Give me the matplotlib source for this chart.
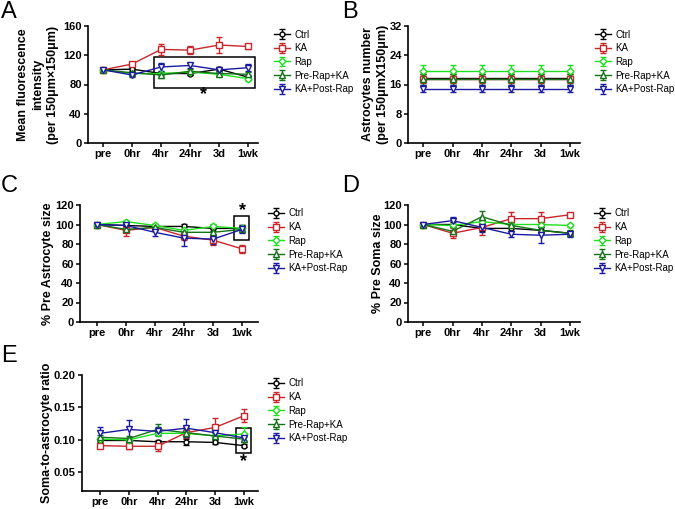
import matplotlib
matplotlib.use('Agg')
import matplotlib.pyplot as plt
from matplotlib.patches import Rectangle

plt.rcParams['font.family'] = ['Liberation Sans', 'DejaVu Sans']

timepoints = ['pre', '0hr', '4hr', '24hr', '3d', '1wk']
groups = ['Ctrl', 'KA', 'Rap', 'Pre-Rap+KA', 'KA+Post-Rap']
colors = ['#000000', '#c8262b', '#1fe01f', '#16721a', '#1a1aa0']
markers = ['o', 's', 'D', '^', 'v']
msizes = [3.5, 4, 3.5, 4, 4]

# panel A: mean fluorescence intensity
a_mean = [[100, 101, 95, 95, 101, 90],
          [100, 108, 128, 127, 134, 132],
          [100, 95, 95, 97, 94, 88],
          [100, 96, 93, 98, 95, 94],
          [100, 93, 104, 106, 100, 103]]
a_err = [[1, 2, 2, 2, 3, 3],
         [1, 3, 7, 5, 11, 4],
         [1, 3, 3, 2, 3, 3],
         [1, 3, 4, 3, 3, 3],
         [1, 3, 6, 4, 3, 5]]

# panel B: astrocyte number
b_mean = [[17.8] * 6, [17.6] * 6, [19.7] * 6, [17.5] * 6, [14.9] * 6]
b_err = [[1.0] * 6, [1.2] * 6, [1.7] * 6, [1.5] * 6, [1.0] * 6]

# panel C: % pre astrocyte size
c_mean = [[100, 99, 98, 98, 96, 96],
          [100, 94, 97, 88, 84, 75],
          [100, 103, 99, 94, 98, 96],
          [100, 95, 97, 92, 92, 95],
          [100, 99, 92, 86, 85, 95]]
c_err = [[1, 3, 3, 3, 3, 3],
         [1, 6, 3, 4, 5, 4],
         [1, 2, 2, 3, 3, 2],
         [1, 3, 3, 3, 3, 3],
         [1, 3, 4, 8, 5, 4]]

# panel D: % pre soma size
d_mean = [[100, 100, 96, 96, 94, 91],
          [100, 91, 97, 106, 106, 110],
          [100, 99, 103, 100, 100, 99],
          [100, 93, 108, 99, 94, 91],
          [100, 104, 97, 90, 89, 90]]
d_err = [[1, 3, 3, 3, 3, 2],
         [1, 5, 8, 7, 7, 2],
         [1, 2, 3, 3, 2, 2],
         [1, 4, 6, 3, 3, 3],
         [1, 4, 5, 3, 8, 3]]

# panel E: soma-to-astrocyte ratio
e_mean = [[0.099, 0.099, 0.097, 0.097, 0.096, 0.091],
          [0.091, 0.090, 0.090, 0.111, 0.119, 0.137],
          [0.101, 0.100, 0.110, 0.110, 0.106, 0.109],
          [0.104, 0.102, 0.116, 0.111, 0.106, 0.101],
          [0.110, 0.116, 0.113, 0.118, 0.111, 0.103]]
e_err = [[0.003, 0.003, 0.003, 0.005, 0.003, 0.002],
         [0.004, 0.004, 0.008, 0.008, 0.015, 0.010],
         [0.004, 0.004, 0.004, 0.004, 0.004, 0.010],
         [0.004, 0.004, 0.008, 0.006, 0.004, 0.004],
         [0.009, 0.014, 0.006, 0.014, 0.006, 0.005]]

W, H = 675, 509
fig = plt.figure(figsize=(W / 100, H / 100), dpi=100)


def px_axes(left, right, top, bottom):
    return fig.add_axes([left / W, 1 - bottom / H, (right - left) / W, (bottom - top) / H])


def panel(ax, means, errs, ylim, yticks, ylabel, label_x, xlim, leg_xy, letter, letter_xy,
          yfmt=None):
    x = list(range(len(timepoints)))
    for i, g in enumerate(groups):
        ax.errorbar(x, means[i], yerr=errs[i], color=colors[i], marker=markers[i],
                    markersize=msizes[i], markerfacecolor='white', markeredgewidth=1.0,
                    linewidth=1.0, elinewidth=1.0, capsize=2.5, capthick=1.0,
                    label=g, clip_on=False)
    ax.set_xlim(*xlim)
    ax.set_ylim(*ylim)
    ax.set_yticks(yticks)
    if yfmt:
        ax.set_yticklabels([yfmt.format(v) for v in yticks])
    ax.set_xticks(x)
    ax.set_xticklabels(timepoints)
    for s in ['top', 'right']:
        ax.spines[s].set_visible(False)
    for s in ['left', 'bottom']:
        ax.spines[s].set_linewidth(1.2)
    ax.tick_params(direction='out', length=3, width=1.1, labelsize=8, pad=1.5)
    for lab in ax.get_xticklabels() + ax.get_yticklabels():
        lab.set_fontweight('bold')
    ax.set_ylabel(ylabel, fontsize=9, fontweight='bold', linespacing=1.3,
                  va='center', ha='center')
    # label centre in figure pixels -> axes coords
    bb = ax.get_position()
    ax.yaxis.set_label_coords((label_x / W - bb.x0) / bb.width, 0.5)
    ax.legend(loc='upper left', bbox_to_anchor=(leg_xy[0] / W, 1 - leg_xy[1] / H),
              bbox_transform=fig.transFigure, frameon=False, fontsize=7,
              handlelength=1.6, handletextpad=0.5, labelspacing=0.38, borderpad=0,
              borderaxespad=0)
    fig.text(letter_xy[0] / W, 1 - letter_xy[1] / H, letter, fontsize=17,
             ha='left', va='top')


axA = px_axes(88, 258, 26, 143)
panel(axA, a_mean, a_err, (0, 160), [0, 40, 80, 120, 160],
      'Mean fluorescence\nintensity\n(per 150\u03bcm\u00d7150\u03bcm)', 38,
      (-0.52, 5.34), (274, 29.5), 'A', (1, 1))
axA.add_patch(Rectangle((1.76, 75), 3.48, 42.5, fill=False, edgecolor='black',
                        linewidth=1.1, clip_on=False))
axA.text(3.45, 66, '*', ha='center', va='center', fontsize=13, fontweight='bold')

axB = px_axes(408, 580, 26, 143)
panel(axB, b_mean, b_err, (0, 32), [0, 8, 16, 24, 32],
      'Astrocytes number\n(per 150\u03bcmX150\u03bcm)', 375.5,
      (-0.52, 5.34), (595, 29.5), 'B', (342, 1))

axC = px_axes(80, 258, 205, 322)
panel(axC, c_mean, c_err, (0, 120), [0, 20, 40, 60, 80, 100, 120],
      '% Pre Astrocyte size', 48,
      (-0.58, 5.55), (268, 208.5), 'C', (1, 175))
axC.add_patch(Rectangle((4.72, 84), 0.52, 24.7, fill=False, edgecolor='black',
                        linewidth=1.1, clip_on=False))
axC.text(5.0, 114, '*', ha='center', va='center', fontsize=13, fontweight='bold')

axD = px_axes(408, 580, 205, 322)
panel(axD, d_mean, d_err, (0, 120), [0, 20, 40, 60, 80, 100, 120],
      '% Pre Soma size', 378,
      (-0.52, 5.34), (594, 208.5), 'D', (342, 175))

axE = px_axes(82, 258, 375, 491)
panel(axE, e_mean, e_err, (0.021, 0.20), [0.05, 0.10, 0.15, 0.20],
      'Soma-to-astrocyte ratio', 47,
      (-0.63, 5.5), (268, 378.5), 'E', (1, 345), yfmt='{:.2f}')
axE.add_patch(Rectangle((4.72, 0.080), 0.55, 0.0385, fill=False, edgecolor='black',
                        linewidth=1.1, clip_on=False))
axE.text(5.0, 0.066, '*', ha='center', va='center', fontsize=13, fontweight='bold')

fig.savefig('out.png', dpi=100)
